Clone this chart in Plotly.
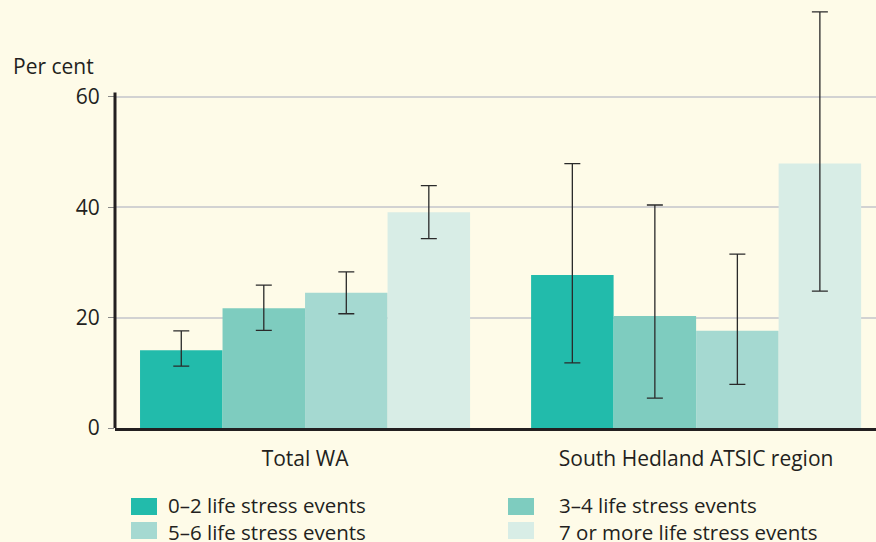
import plotly.graph_objects as go

categories = ["Total WA", "South Hedland ATSIC region"]
series_names = ["0–2 life stress events", "3–4 life stress events",
                "5–6 life stress events", "7 or more life stress events"]
values = [
    [14.1, 27.7],
    [21.7, 20.3],
    [24.5, 17.6],
    [39.1, 47.9],
]
err_upper = [
    [17.6, 47.9],
    [25.9, 40.4],
    [28.3, 31.5],
    [43.9, 75.4],
]
err_lower = [
    [11.2, 11.8],
    [17.7, 5.4],
    [20.7, 7.9],
    [34.3, 24.8],
]
y_ticks = [0, 20, 40, 60]
colors = ["#22BBAB", "#7ECCBF", "#A5D9D1", "#D8EDE6"]

BG = "#FEFBE8"
TXT = "#231F20"
FONT = "Open Sans"
FS = 21
LFS = 20.5

W, H = 876, 542
L, R, T, B = 115, 0, 3, 114
pw, ph = W - L - R, H - T - B

def px_x(x):
    return (x - L) / pw

def px_y(y):
    return (H - B - y) / ph

fig = go.Figure()
for i, name in enumerate(series_names):
    fig.add_trace(go.Bar(
        x=categories, y=values[i], name=name,
        marker=dict(color=colors[i], line=dict(width=0)),
        error_y=dict(type="data", symmetric=False,
                     array=[u - v for u, v in zip(err_upper[i], values[i])],
                     arrayminus=[v - l for v, l in zip(values[i], err_lower[i])],
                     color="#2a2a2a", thickness=1.3, width=8),
        cliponaxis=False,
        showlegend=False,
    ))

shapes = []
# left axis line (stops just above 60)
shapes.append(dict(type="line", xref="paper", yref="y", x0=0, x1=0, y0=-0.3, y1=60.8,
                   line=dict(color=TXT, width=3)))

annotations = [dict(text="Per cent", xref="paper", yref="paper",
                    x=px_x(11), y=px_y(66), xanchor="left", yanchor="middle",
                    showarrow=False, font=dict(family=FONT, size=FS, color=TXT))]

# legend (2 x 2): swatches
leg_pos = [(131, 506.5), (508, 506.5), (131, 530.5), (508, 530.5)]
for i, name in enumerate(series_names):
    sx, cy = leg_pos[i]
    shapes.append(dict(type="rect", xref="paper", yref="paper",
                       x0=px_x(sx), x1=px_x(sx + 26), y0=px_y(cy - 8.5), y1=px_y(cy + 8.5),
                       fillcolor=colors[i], line=dict(width=0)))
# legend labels: one two-line text per column
for col, tx in enumerate([167, 558]):
    annotations.append(dict(text=series_names[col] + "<br>" + series_names[col + 2],
                            xref="paper", yref="paper",
                            x=px_x(tx), y=px_y(518.5), xanchor="left", yanchor="middle",
                            align="left", borderpad=0,
                            showarrow=False, font=dict(family=FONT, size=LFS, color=TXT)))

fig.update_layout(
    width=W, height=H, autosize=False,
    margin=dict(l=L, r=R, t=T, b=B, pad=0),
    paper_bgcolor=BG, plot_bgcolor=BG,
    barmode="group", bargap=0.156, bargroupgap=0,
    font=dict(family=FONT, size=FS, color=TXT),
    xaxis=dict(range=[-0.486, 1.46], showline=True, linecolor=TXT, linewidth=3,
               showgrid=False, ticks="", ticklabelstandoff=10,
               tickfont=dict(size=FS, color=TXT), zeroline=False),
    yaxis=dict(range=[0, 77], tickvals=y_ticks, showgrid=True, gridcolor="#D2D2D2",
               gridwidth=2, showline=False, zeroline=False, ticks="outside", ticklen=6,
               tickcolor="#888888", tickwidth=1, ticklabelstandoff=4,
               tickfont=dict(size=FS, color=TXT)),
    shapes=shapes, annotations=annotations,
)

fig.write_html("out.html", config={"displayModeBar": False},
               post_script="document.body.style.margin='0';")
